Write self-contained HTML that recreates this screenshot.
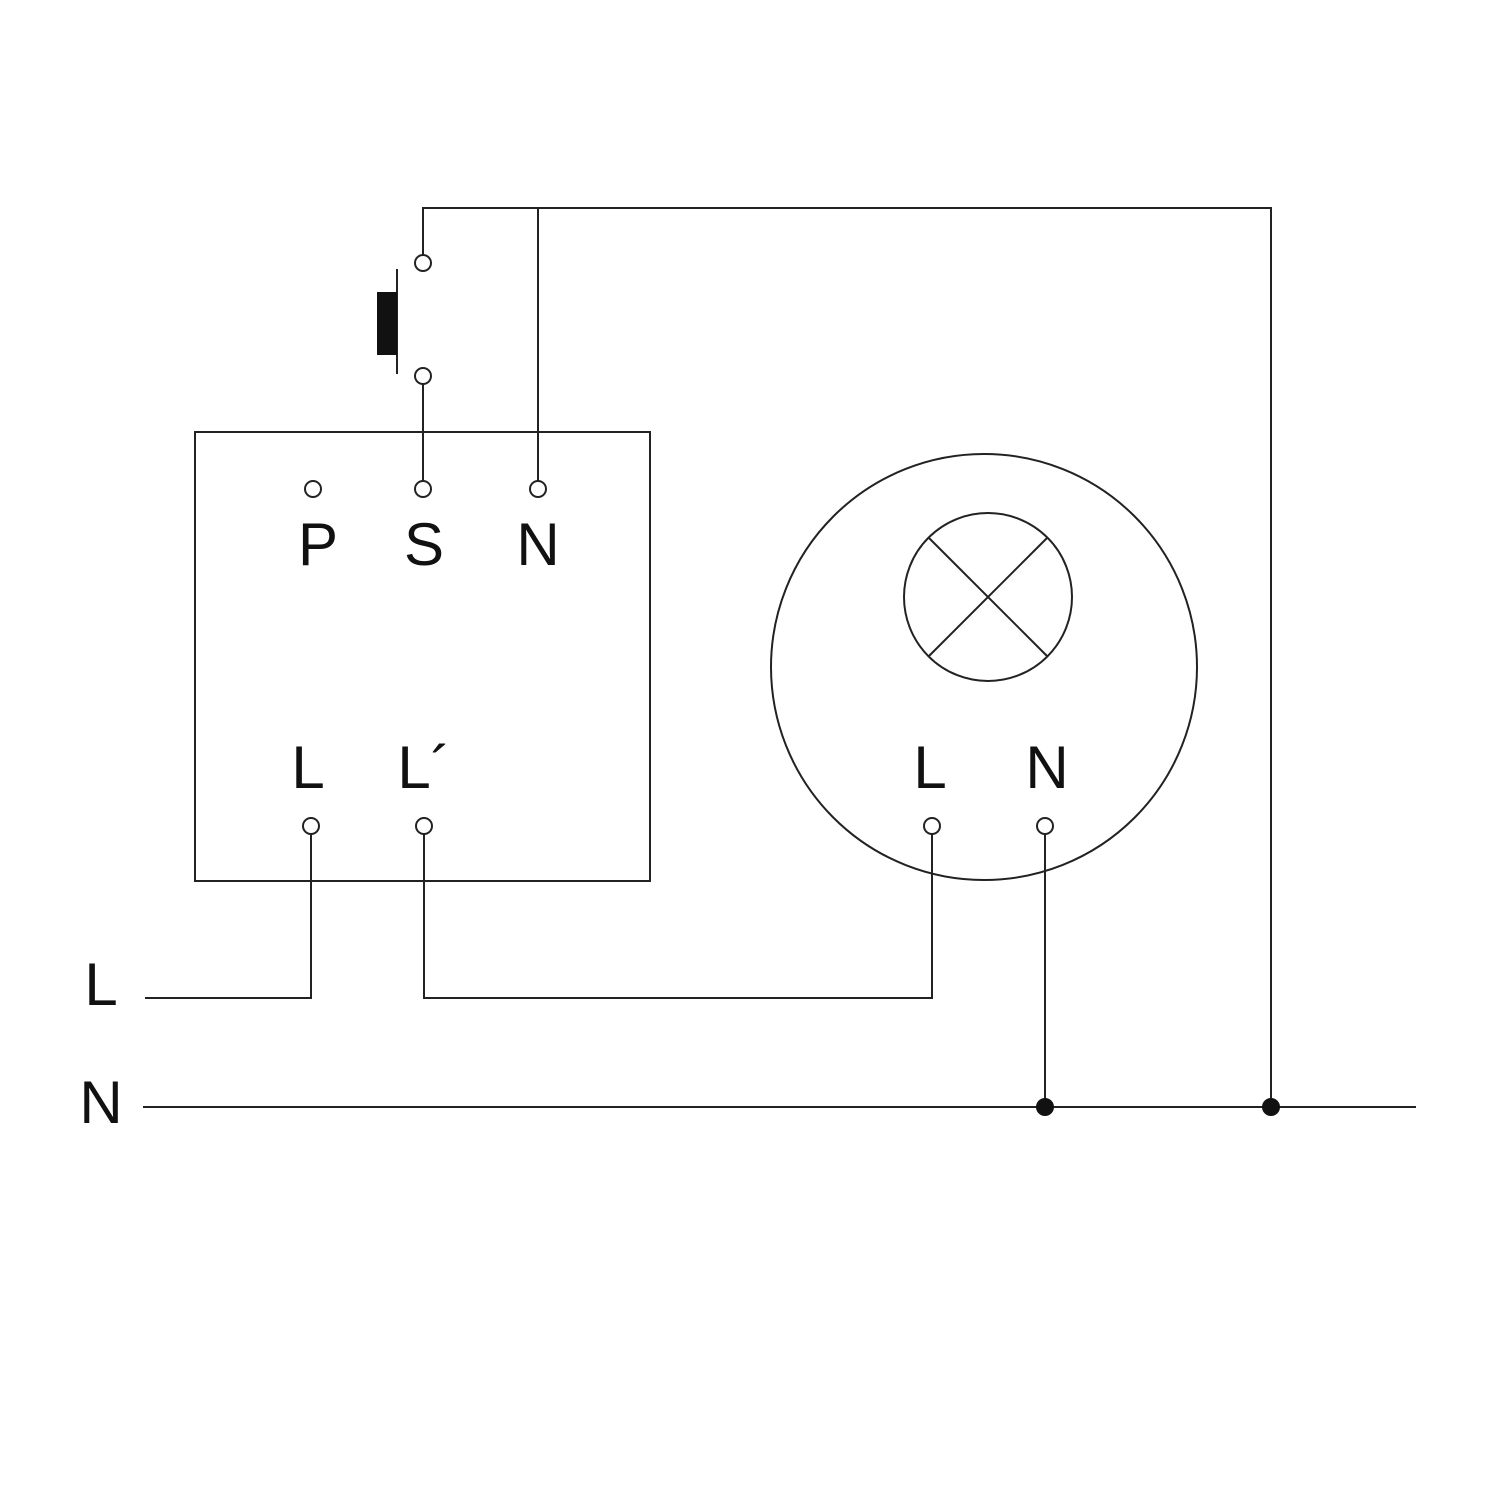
<!DOCTYPE html>
<html><head><style>body{margin:0;background:#fff}svg{display:block}</style></head><body>
<svg width="1500" height="1500" viewBox="0 0 1500 1500" xmlns="http://www.w3.org/2000/svg">
<g fill="none" stroke="#222" stroke-width="2">
<rect x="195" y="432" width="455" height="449"/>
<circle cx="984" cy="667" r="213"/>
<circle cx="988" cy="597" r="84"/>
<line x1="929" y1="538" x2="1047" y2="656"/>
<line x1="1047" y1="538" x2="929" y2="656"/>
<polyline points="423,255 423,208 1271,208 1271,1107"/>
<line x1="538" y1="208" x2="538" y2="481"/>
<line x1="423" y1="384" x2="423" y2="481"/>
<line x1="397" y1="269" x2="397" y2="374"/>
<polyline points="311,834 311,998 145,998"/>
<polyline points="424,834 424,998 932,998 932,834"/>
<line x1="1045" y1="834" x2="1045" y2="1107"/>
<line x1="143" y1="1107" x2="1416" y2="1107"/>
</g>
<rect x="377" y="292" width="20" height="63" fill="#111"/>
<g fill="#fff" stroke="#222" stroke-width="2">
<circle cx="423" cy="263" r="8"/><circle cx="423" cy="376" r="8"/>
<circle cx="313" cy="489" r="8"/><circle cx="423" cy="489" r="8"/><circle cx="538" cy="489" r="8"/>
<circle cx="311" cy="826" r="8"/><circle cx="424" cy="826" r="8"/>
<circle cx="932" cy="826" r="8"/><circle cx="1045" cy="826" r="8"/>
</g>
<circle cx="1045" cy="1107" r="9" fill="#111"/>
<circle cx="1271" cy="1107" r="9" fill="#111"/>
<g font-family="Liberation Sans, sans-serif" font-size="60" fill="#111" text-anchor="middle">
<text x="318" y="565">P</text><text x="424" y="565">S</text><text x="538" y="565">N</text>
<text x="308" y="788">L</text><text x="424" y="788">L´</text>
<text x="930" y="788">L</text><text x="1047" y="788">N</text>
<text x="101" y="1005">L</text><text x="101" y="1123">N</text>
</g>
</svg>
</body></html>
